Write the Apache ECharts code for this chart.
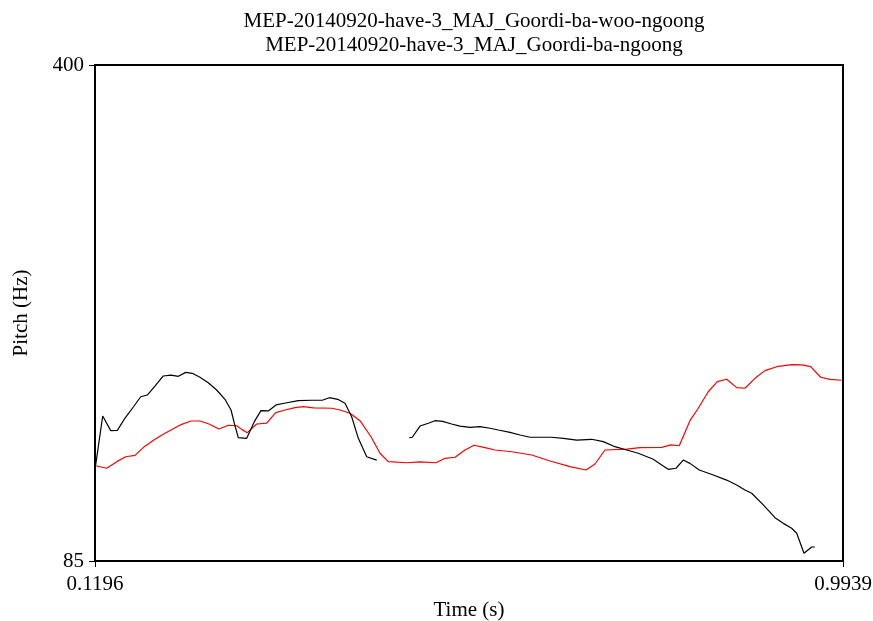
<!DOCTYPE html>
<html>
<head>
<meta charset="utf-8">
<script src="https://cdn.jsdelivr.net/npm/echarts@6/dist/echarts.min.js"></script>
<style>html,body{margin:0;padding:0;background:#fff;}#c{width:873px;height:621px;}</style>
</head>
<body>
<div id="c"></div>
<script>
const titleLines = ['MEP-20140920-have-3_MAJ_Goordi-ba-woo-ngoong', 'MEP-20140920-have-3_MAJ_Goordi-ba-ngoong'];
const xTicks = [0.1196, 0.9939];
const yTicks = [85, 400];

// Black contour (Goordi-ba-woo-ngoong), two voiced stretches
const blackT1 = [0.1204,0.1286,0.1380,0.1457,0.1547,0.1644,0.1730,0.1807,0.1897,0.1994,0.2084,0.2170,0.2256,0.2333,0.2423,0.2520,0.2618,0.2715,0.2786,0.2824,0.2871,0.2969,0.3058,0.3136,0.3222,0.3312,0.3409,0.3572,0.3729,0.3853,0.3935,0.4033,0.4118,0.4196,0.4274,0.4372,0.4489];
const blackP1 = [146.0,177.1,167.8,168.0,175.8,182.8,189.3,190.4,196.1,202.5,203.1,202.3,204.8,204.2,201.7,198.2,193.6,187.7,180.9,172.5,163.3,162.9,173.5,180.5,180.3,184.1,185.2,186.8,187.1,187.1,188.7,187.7,185.2,176.6,162.9,151.2,149.1];
const blackT2 = [0.4870,0.4905,0.4995,0.5092,0.5170,0.5260,0.5365,0.5462,0.5579,0.5696,0.5813,0.5910,0.6047,0.6164,0.6281,0.6397,0.6534,0.6670,0.6826,0.7001,0.7137,0.7274,0.7411,0.7546,0.7721,0.7820,0.7897,0.7987,0.8072,0.8150,0.8259,0.8423,0.8579,0.8696,0.8793,0.8872,0.9007,0.9144,0.9241,0.9339,0.9398,0.9483,0.9573,0.9611];
const blackP2 = [163.3,163.6,170.7,172.5,174.1,173.7,172.0,170.7,169.9,170.3,169.3,168.2,166.7,165.0,163.6,163.6,163.6,162.9,161.8,162.3,160.8,157.6,155.5,153.4,149.6,146.0,143.2,143.9,149.1,147.0,142.8,139.6,136.4,133.3,130.1,128.0,120.6,112.5,108.9,105.8,102.6,89.9,93.9,93.9];

// Red contour (Goordi-ba-ngoong)
const redT = [0.1204,0.1333,0.1450,0.1555,0.1664,0.1772,0.1897,0.2014,0.2111,0.2209,0.2318,0.2423,0.2528,0.2645,0.2754,0.2852,0.2911,0.2976,0.3086,0.3203,0.3308,0.3417,0.3534,0.3631,0.3748,0.3963,0.4060,0.4176,0.4293,0.4422,0.4527,0.4624,0.4839,0.4995,0.5182,0.5287,0.5404,0.5521,0.5626,0.5754,0.5871,0.6066,0.6300,0.6514,0.6748,0.6935,0.7040,0.7157,0.7411,0.7566,0.7820,0.7925,0.8025,0.8150,0.8247,0.8364,0.8469,0.8579,0.8696,0.8793,0.8910,0.9027,0.9164,0.9339,0.9456,0.9561,0.9678,0.9787,0.9923];
const redP = [145.5,143.9,148.1,151.2,152.1,157.6,162.3,166.1,169.0,171.8,173.9,173.9,172.0,168.8,171.2,170.9,168.6,166.5,172.0,172.5,179.2,180.9,182.4,183.0,182.2,182.0,180.9,178.8,174.1,163.9,153.4,148.1,147.4,147.9,147.4,150.2,150.9,155.5,158.5,157.0,155.5,154.4,152.3,148.5,144.9,142.8,146.6,155.5,156.1,157.0,157.2,158.7,158.2,174.1,182.0,192.5,198.9,200.4,195.1,194.7,201.0,205.9,208.4,209.7,209.5,208.4,201.7,200.4,199.8];

const zip = (a, b) => a.map((v, i) => [v, b[i]]);
const font = 'Liberation Serif, Times New Roman, serif';
const fs = 21;

const chart = echarts.init(document.getElementById('c'), null, {renderer: 'canvas'});
chart.setOption({
  backgroundColor: '#fff',
  animation: false,
  grid: {left: 95, right: 30, top: 65, bottom: 60, outerBoundsMode: 'none', containLabel: false, show: true, borderColor: '#000', borderWidth: 2, backgroundColor: 'transparent'},
  xAxis: {
    type: 'value', min: xTicks[0], max: xTicks[1],
    axisLine: {show: true, lineStyle: {color: '#000', width: 2}},
    axisTick: {show: true, length: 6, lineStyle: {color: '#000', width: 1}, customValues: xTicks},
    axisLabel: {color: '#000', fontFamily: font, fontSize: fs, margin: 13, customValues: xTicks, formatter: v => v.toFixed(4)},
    splitLine: {show: false},
    name: 'Time (s)', nameLocation: 'middle', nameGap: 37,
    nameTextStyle: {color: '#000', fontFamily: font, fontSize: fs}
  },
  yAxis: {
    type: 'value', min: yTicks[0], max: yTicks[1],
    axisLine: {show: true, lineStyle: {color: '#000', width: 2}},
    axisTick: {show: true, length: 6, lineStyle: {color: '#000', width: 1}, customValues: yTicks},
    axisLabel: {color: '#000', fontFamily: font, fontSize: fs, margin: 11, customValues: yTicks},
    splitLine: {show: false},
    name: 'Pitch (Hz)', nameLocation: 'middle', nameGap: 63, nameRotate: 90,
    nameTextStyle: {color: '#000', fontFamily: font, fontSize: fs}
  },
  title: {
    text: titleLines.join('\n'), left: 469, top: 4, textAlign: 'center',
    textStyle: {color: '#000', fontFamily: font, fontSize: fs, fontWeight: 'normal', lineHeight: 24}
  },
  series: [
    {type: 'line', data: zip(redT, redP), showSymbol: false, lineStyle: {color: '#ff0000', width: 1.2}, z: 2},
    {type: 'line', data: zip(blackT1, blackP1), showSymbol: false, lineStyle: {color: '#000', width: 1.2}, z: 3},
    {type: 'line', data: zip(blackT2, blackP2), showSymbol: false, lineStyle: {color: '#000', width: 1.2}, z: 3}
  ]
});
</script>
</body>
</html>
